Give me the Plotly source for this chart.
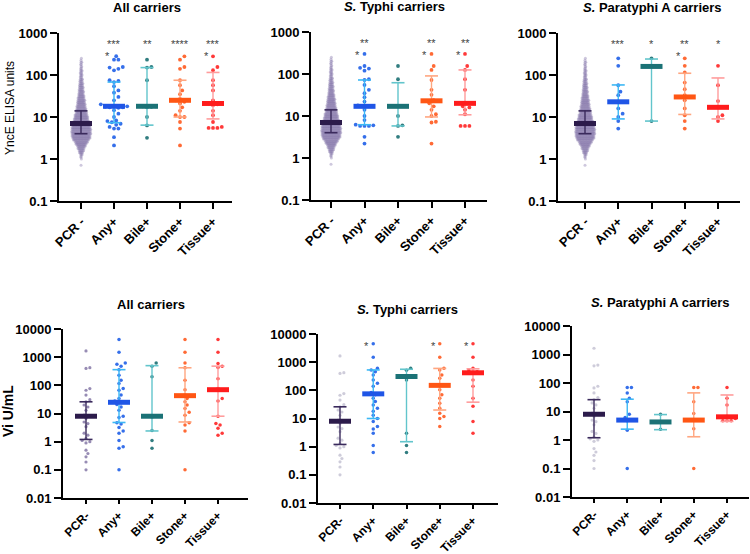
import math
import plotly.graph_objects as go

W, H = 750, 554
FONT = "Liberation Sans, Arial, sans-serif"

# ---------------- categories / ticks ----------------
cats_top = ["PCR -", "Any+", "Bile+", "Stone+", "Tissue+"]
cats_bottom = ["PCR-", "Any+", "Bile+", "Stone+", "Tissue+"]
yticks_top = [0.1, 1, 10, 100, 1000]
yticks_top_text = ["0.1", "1", "10", "100", "1000"]
yticks_bot = [0.01, 0.1, 1, 10, 100, 1000, 10000]
yticks_bot_text = ["0.01", "0.1", "1", "10", "100", "1000", "10000"]

# ---------------- YncE: PCR- controls (binned: value levels and counts) ----------------
pcr_ynce_levels = [0.71, 0.79, 0.89, 1.0, 1.12, 1.26, 1.41, 1.58, 1.78, 2.0, 2.24, 2.51, 2.82,
                   3.16, 3.55, 3.98, 4.47, 5.01, 5.62, 6.31, 7.08, 7.94, 8.91, 10, 11.2, 12.6,
                   14.1, 15.8, 17.8, 20, 22.4, 25.1, 28.2, 31.6, 35.5, 39.8, 44.7, 50.1, 56.2,
                   63.1, 70.8, 79.4, 89.1, 100, 112, 126, 141, 158, 178, 200, 224, 251]
pcr_ynce_counts = [1, 0, 0, 1, 2, 3, 5, 7, 9, 11, 14, 17, 21, 24, 25, 26, 26, 26, 25, 24, 22, 21,
                   19, 18, 17, 15, 14, 13, 12, 11, 10, 10, 9, 8, 7, 7, 6, 6, 5, 5, 4, 4, 3, 3, 3,
                   3, 2, 2, 2, 2, 1, 1]
pcr_ynce_stats = [7, 4, 14]  # median, q1, q3

# All carriers (YncE)
all_any = [280, 232, 232, 155, 150, 140, 129, 75, 72, 68, 54, 43, 38, 30, 25, 20, 18, 18, 17.5,
           17, 17, 16.5, 14.4, 12, 10, 8.3, 8, 7.5, 6.9, 6.5, 5.8, 5.3, 5.3, 3.3, 2.1]
all_bile = [232, 155, 150, 75, 18, 18, 17.5, 17, 10, 6.3, 3.2]
all_stone = [278, 232, 155, 140, 75, 57, 43, 35, 27, 25, 23, 21, 17, 14, 11, 10, 10, 7.6, 5.3, 2.1]
all_tissue = [278, 155, 130, 75, 57, 43, 25, 21, 20, 19, 14, 11, 7.6, 5.8, 5.5, 5.5, 5.5]
all_stats = [[18, 7.3, 68], [18, 6.4, 150], [25, 10, 75], [21, 9, 115]]
all_stars = ["", "***", "**", "****", "***"]
all_stars2 = ["", "*", "", "", "*"]

# S. Typhi carriers (YncE)
ty_any = [300, 155, 140, 135, 120, 75, 72, 55, 42, 35, 28, 22, 18, 17.5, 17, 17, 14, 10, 8,
          6.2, 6, 5.8, 5.8, 5.8, 3.2, 2.2]
ty_bile = [155, 75, 17.5, 17, 10, 6, 5.8, 3.2]
ty_stone = [300, 155, 125, 72, 42, 32, 24, 20, 17, 14, 11, 10, 7.3, 7, 2.2]
ty_tissue = [300, 155, 125, 75, 42, 20, 17, 16, 14, 11, 5.8, 5.8, 5.8]
ty_stats = [[17, 6.2, 72], [17, 5.8, 62], [23, 9.5, 90], [20, 10.7, 125]]
ty_stars = ["", "**", "", "**", "**"]
ty_stars2 = ["", "*", "", "*", "*"]

# S. Paratyphi A carriers (YncE)
pa_any = [250, 165, 57, 40, 33, 23, 16, 12, 10, 8, 5.3]
pa_bile = [250, 165, 8]
pa_stone = [250, 165, 115, 66, 46, 33, 30, 25, 16, 11, 8, 5.3]
pa_tissue = [165, 57, 24, 17, 11, 10, 8]
pa_stats = [[23, 9, 58], [160, 8, 240], [30, 11.5, 110], [17, 9, 85]]
pa_stars = ["", "***", "*", "**", "*"]
pa_stars2 = ["", "", "", "*", ""]

# ---------------- Vi ----------------
pcr_vi = [1660, 425, 400, 77, 67, 45, 31, 26, 20, 17, 13, 8.7, 8, 6.6, 5, 4.4, 3.4, 2, 1.7,
          1.3, 1.1, 1, 0.9, 0.5, 0.38, 0.29, 0.19, 0.1]
pcr_vi_stats = [8, 1.2, 26]

vall_any = [4200, 1500, 620, 560, 480, 360, 230, 150, 115, 77, 67, 45, 34, 28, 24, 21, 17, 13,
            8, 7.2, 4.7, 4.2, 3.2, 2.4, 2, 1.1, 0.66, 0.58, 0.1]
vall_bile = [620, 480, 200, 8, 7.5, 2.5, 1.1, 0.58]
vall_stone = [4200, 1500, 620, 425, 150, 70, 45, 34, 26, 20, 15, 11, 8.7, 4.7, 3.9, 2.4, 0.1]
vall_tissue = [4200, 1500, 590, 480, 430, 170, 77, 34, 28, 8, 4.4, 3.9, 3, 2, 1.7]
vall_stats = [[25, 4.8, 360], [8, 2.4, 500], [43, 5, 420], [70, 8, 480]]
vall_stars = ["", "*", "", "*", "**"]
vall_stars2 = ["", "", "", "", ""]

vty_any = [4500, 1500, 610, 530, 460, 350, 235, 180, 140, 84, 70, 52, 40, 30, 23, 18, 13, 10,
           7.8, 5.2, 4.2, 3, 1.1, 0.62]
vty_bile = [610, 520, 330, 235, 3, 1.1, 0.62]
vty_stone = [4500, 1500, 610, 530, 350, 270, 155, 105, 70, 52, 35, 23, 15.5, 11.8, 10, 5.2]
vty_tissue = [4500, 1500, 610, 530, 460, 420, 235, 140, 52, 27, 7.8, 3]
vty_stats = [[75, 10, 530], [310, 1.5, 560], [150, 20, 600], [420, 38, 580]]
vty_stars = ["", "*", "", "**", "**"]
vty_stars2 = ["", "*", "", "*", "*"]

vpa_any = [70, 70, 45, 29, 22, 8, 6.2, 5, 4.7, 2.2, 0.1]
vpa_bile = [8, 4.3, 2.4]
vpa_stone = [70, 70, 22, 8.5, 5, 2.5, 0.1]
vpa_tissue = [70, 29, 17, 6.8, 5.7, 4.7, 4.7, 4.7]
vpa_stats = [[5, 2.4, 27], [4.3, 2.3, 7.8], [5, 1.3, 45], [6.5, 4.5, 38]]
vpa_stars = ["", "", "", "", ""]
vpa_stars2 = ["", "", "", "", ""]

# ---------------- styles ----------------
pt_colors = ["#8a7cae", "#1f5fe8", "#1b6f72", "#ff5a1f", "#ff2424"]
med_colors = ["#2c1b4b", "#1f55e6", "#1b7276", "#ff5614", "#ff1c1c"]
err_colors = ["#3a2a5c", "#3db8f5", "#62c5cc", "#ffa680", "#ff9c9c"]

# panel pixel geometry: x_left, x_right, cat0, cat4, y_top, y_bottom, log range
panels = [
    dict(g=(59, 232, 81, 213, 33, 201), yr=(-1, 3), title="<b>All carriers</b>", tx=147, ty=8),
    dict(g=(311, 487, 331, 465, 32, 200), yr=(-1, 3), title="<b><i>S.</i> Typhi carriers</b>", tx=395, ty=7),
    dict(g=(558, 740, 585, 718, 33, 201), yr=(-1, 3), title="<b><i>S.</i> Paratyphi A carriers</b>", tx=652, ty=8),
    dict(g=(63, 248, 86, 218, 329, 498), yr=(-2, 4), title="<b>All carriers</b>", tx=151, ty=304),
    dict(g=(318, 498, 340, 473, 334, 503), yr=(-2, 4), title="<b><i>S.</i> Typhi carriers</b>", tx=407, ty=309),
    dict(g=(572, 749, 594, 727, 326, 497), yr=(-2, 4), title="<b><i>S.</i> Paratyphi A carriers</b>", tx=660, ty=302),
]
panel_groups = [
    [all_any, all_bile, all_stone, all_tissue],
    [ty_any, ty_bile, ty_stone, ty_tissue],
    [pa_any, pa_bile, pa_stone, pa_tissue],
    [vall_any, vall_bile, vall_stone, vall_tissue],
    [vty_any, vty_bile, vty_stone, vty_tissue],
    [vpa_any, vpa_bile, vpa_stone, vpa_tissue],
]
panel_stats = [all_stats, ty_stats, pa_stats, vall_stats, vty_stats, vpa_stats]
panel_stars = [all_stars, ty_stars, pa_stars, vall_stars, vty_stars, vpa_stars]
panel_stars2 = [all_stars2, ty_stars2, pa_stars2, vall_stars2, vty_stars2, vpa_stars2]
star_y = [2.74, 2.74, 2.74, 4.1, 4.01, 4.0]
star2_y = [2.45, 2.45, 2.45, 3.6, 3.59, 3.6]
pcr_vi_colors = ["#8c7fac", "#c9c6d6", "#c9c6d6"]


def swarm_offsets(values, ppd, ppu, diam):
    ys = [math.log10(v) * ppd for v in values]
    order = sorted(range(len(values)), key=lambda i: ys[i])
    placed = []
    out = [0.0] * len(values)
    step = diam * 0.55
    for i in order:
        y = ys[i]
        k = 0
        while True:
            m = (k + 1) // 2
            off = m * step * (1 if k % 2 == 1 else -1)
            ok = True
            for (px, py) in placed:
                dy = y - py
                if abs(dy) < diam and abs(off - px) < math.sqrt(diam * diam - dy * dy) - 1e-9:
                    ok = False
                    break
            if ok:
                break
            k += 1
        placed.append((off, y))
        out[i] = off / ppu
    return out


def binned_rows(levels, counts, ppu, spacing):
    xs, ys = [], []
    for r, (lv, n) in enumerate(zip(levels, counts)):
        shift = 0.5 * spacing if r % 2 else 0.0
        for j in range(n):
            xs.append(((j - (n - 1) / 2) * spacing + shift) / ppu)
            ys.append(lv)
    return xs, ys


fig = go.Figure()
layout = dict(
    width=W, height=H, margin=dict(l=0, r=0, t=0, b=0, autoexpand=False),
    paper_bgcolor="white", plot_bgcolor="white", showlegend=False,
    font=dict(family=FONT, color="black"),
)
annotations = []

for p, spec in enumerate(panels):
    xl, xr, c0, c4, yt, yb = spec["g"]
    y0, y1 = spec["yr"]
    ppu = (c4 - c0) / 4.0
    ppd = (yb - yt) / float(y1 - y0)
    xa = "x" if p == 0 else f"x{p + 1}"
    ya = "y" if p == 0 else f"y{p + 1}"
    xkey = "xaxis" if p == 0 else f"xaxis{p + 1}"
    ykey = "yaxis" if p == 0 else f"yaxis{p + 1}"
    top = p < 3
    cats = cats_top if top else cats_bottom
    layout[xkey] = dict(
        domain=[xl / W, xr / W], anchor=ya, automargin=False,
        range=[(xl - c0) / ppu, 4 + (xr - c4) / ppu],
        tickvals=list(range(5)), ticktext=cats, tickangle=-45,
        tickfont=dict(family=FONT, size=13 if top else 12, color="black", weight="bold"),
        showline=True, linecolor="black", linewidth=2,
        ticks="outside", ticklen=6 if top else 4, tickwidth=2, tickcolor="black",
        showgrid=False, zeroline=False,
    )
    layout[ykey] = dict(
        domain=[1 - yb / H, 1 - yt / H], anchor=xa, type="log", automargin=False,
        range=[y0, y1],
        tickvals=yticks_top if top else yticks_bot,
        ticktext=yticks_top_text if top else yticks_bot_text,
        tickfont=dict(family=FONT, size=13, color="black", weight="bold"),
        showline=True, linecolor="black", linewidth=2,
        ticks="outside", ticklen=7, tickwidth=2, tickcolor="black",
        showgrid=False, zeroline=False,
    )

    # ---- PCR- group ----
    if top:
        px_, py_ = binned_rows(pcr_ynce_levels, pcr_ynce_counts, ppu, 0.75)
        fig.add_trace(go.Scatter(x=px_, y=py_, mode="markers", xaxis=xa, yaxis=ya,
                                 marker=dict(size=3, color=pt_colors[0], opacity=0.42, line=dict(width=0)),
                                 hoverinfo="skip"))
        pstats = pcr_ynce_stats
    else:
        offs = swarm_offsets(pcr_vi, ppd, ppu, 3.5)
        fig.add_trace(go.Scatter(x=offs, y=pcr_vi, mode="markers", xaxis=xa, yaxis=ya,
                                 marker=dict(size=3.2, color=pcr_vi_colors[p - 3], opacity=0.9, line=dict(width=0)),
                                 hoverinfo="skip"))
        pstats = pcr_vi_stats

    all_stats_p = [pstats] + panel_stats[p]
    # ---- carrier groups ----
    for g, vals in enumerate(panel_groups[p]):
        ci = g + 1
        offs = swarm_offsets(vals, ppd, ppu, 4.0 if top else 3.8)
        fig.add_trace(go.Scatter(x=[ci + o for o in offs], y=vals, mode="markers", xaxis=xa, yaxis=ya,
                                 marker=dict(size=3.8 if top else 3.5, color=pt_colors[ci], opacity=0.9,
                                             line=dict(width=0)),
                                 hoverinfo="skip"))

    # ---- median + IQR bars ----
    for ci in range(5):
        med, q1, q3 = all_stats_p[ci]
        ec = err_colors[ci]
        cap = 6.5 / ppu
        half = 11.0 / ppu
        fig.add_trace(go.Scatter(x=[ci, ci], y=[q1, q3], mode="lines", xaxis=xa, yaxis=ya,
                                 line=dict(color=ec, width=1.4), hoverinfo="skip"))
        for q in (q1, q3):
            fig.add_trace(go.Scatter(x=[ci - cap, ci + cap], y=[q, q], mode="lines", xaxis=xa, yaxis=ya,
                                     line=dict(color=ec, width=1.6), hoverinfo="skip"))
        fig.add_trace(go.Scatter(x=[ci - half, ci + half], y=[med, med], mode="lines", xaxis=xa, yaxis=ya,
                                 line=dict(color=med_colors[ci], width=5), hoverinfo="skip"))

    # ---- significance stars ----
    for ci in range(5):
        s1 = panel_stars[p][ci]
        s2 = panel_stars2[p][ci]
        if s1:
            annotations.append(dict(x=ci, y=star_y[p], xref=xa, yref=ya, text=s1, showarrow=False,
                                    font=dict(family=FONT, size=11, color="#444444"),
                                    xanchor="center", yanchor="middle"))
        if s2:
            annotations.append(dict(x=ci - 0.2, y=star2_y[p], xref=xa, yref=ya, text=s2, showarrow=False,
                                    font=dict(family=FONT, size=11, color="#444444"),
                                    xanchor="center", yanchor="middle"))

    annotations.append(dict(x=spec["tx"] / W, y=1 - spec["ty"] / H, xref="paper", yref="paper",
                            text=spec["title"], showarrow=False,
                            font=dict(family=FONT, size=13, color="black"),
                            xanchor="center", yanchor="middle"))

annotations.append(dict(x=10 / W, y=1 - 108 / H, xref="paper", yref="paper", text="YncE ELISA units",
                        textangle=-90, showarrow=False, font=dict(family=FONT, size=12, color="black"),
                        xanchor="center", yanchor="middle"))
annotations.append(dict(x=8 / W, y=1 - 411 / H, xref="paper", yref="paper", text="<b>Vi U/mL</b>",
                        textangle=-90, showarrow=False, font=dict(family=FONT, size=14, color="black"),
                        xanchor="center", yanchor="middle"))

layout["annotations"] = annotations
fig.update_layout(**layout)
fig.write_html("out.html", config={"displayModeBar": False},
               post_script="document.body.style.margin='0px';document.body.style.overflow='hidden';")
